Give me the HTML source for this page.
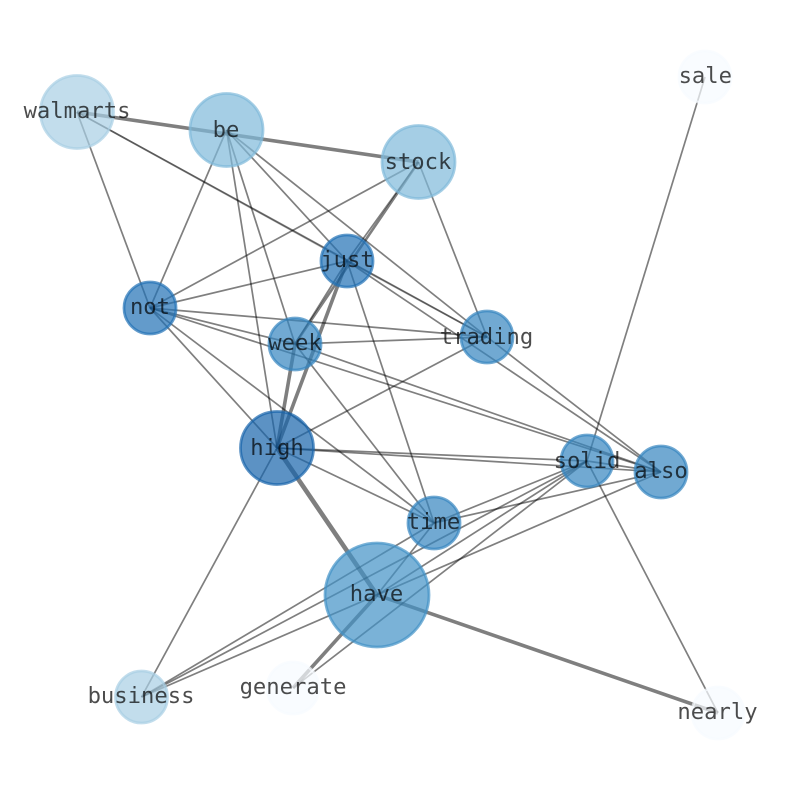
<!DOCTYPE html>
<html><head><meta charset="utf-8"><style>
html,body{margin:0;padding:0;background:#fff}
svg{display:block}
text{font-family:"DejaVu Sans Mono","Liberation Mono",monospace;font-size:22.2px;text-anchor:middle;fill:#000;fill-opacity:.7}
line{stroke:#000;stroke-opacity:.5;stroke-width:1.7}
.t2{stroke-width:2.6}.t3{stroke-width:3.6}.t4{stroke-width:4.6}
.o{stroke-opacity:.3}
circle{stroke-width:2.8;fill-opacity:.7;stroke-opacity:.7}
</style></head><body>
<svg width="794" height="790" viewBox="0 0 794 790" xmlns="http://www.w3.org/2000/svg">
<g>
<line class="t3" x1="77" y1="112" x2="418.5" y2="162"/>
<line class="o" x1="77" y1="112" x2="347" y2="261"/>
<line x1="77" y1="112" x2="487" y2="337"/>
<line class="o" x1="347" y1="261" x2="487" y2="337"/>
<line x1="77" y1="112" x2="150" y2="308"/>
<line x1="226.5" y1="130" x2="150" y2="308"/>
<line x1="226.5" y1="130" x2="277" y2="448"/>
<line x1="226.5" y1="130" x2="295" y2="344"/>
<line x1="226.5" y1="130" x2="347" y2="261"/>
<line x1="226.5" y1="130" x2="487" y2="337"/>
<line x1="418.5" y1="162" x2="150" y2="308"/>
<line x1="418.5" y1="162" x2="347" y2="261"/>
<line class="t2" x1="418.5" y1="162" x2="295" y2="344"/>
<line x1="418.5" y1="162" x2="487" y2="337"/>
<line x1="347" y1="261" x2="150" y2="308"/>
<line x1="347" y1="261" x2="295" y2="344"/>
<line class="t3" x1="347" y1="261" x2="277" y2="448"/>
<line x1="347" y1="261" x2="434" y2="523"/>
<line x1="347" y1="261" x2="661" y2="472"/>
<line x1="150" y1="308" x2="487" y2="337"/>
<line x1="150" y1="308" x2="295" y2="344"/>
<line x1="150" y1="308" x2="661" y2="472"/>
<line x1="150" y1="308" x2="277" y2="448"/>
<line x1="150" y1="308" x2="434" y2="523"/>
<line x1="295" y1="344" x2="487" y2="337"/>
<line x1="295" y1="344" x2="434" y2="523"/>
<line x1="295" y1="344" x2="661" y2="472"/>
<line class="t3" x1="295" y1="344" x2="277" y2="448"/>
<line x1="487" y1="337" x2="277" y2="448"/>
<line x1="487" y1="337" x2="661" y2="472"/>
<line x1="277" y1="448" x2="587" y2="461"/>
<line x1="277" y1="448" x2="661" y2="472"/>
<line x1="277" y1="448" x2="434" y2="523"/>
<line x1="277" y1="448" x2="141.5" y2="697"/>
<line class="t4" x1="277" y1="448" x2="377" y2="595"/>
<line x1="434" y1="523" x2="587" y2="461"/>
<line x1="434" y1="523" x2="661" y2="472"/>
<line x1="434" y1="523" x2="377" y2="595"/>
<line x1="434" y1="523" x2="141.5" y2="697"/>
<line x1="587" y1="461" x2="141.5" y2="697"/>
<line x1="587" y1="461" x2="377" y2="595"/>
<line x1="587" y1="461" x2="293" y2="688"/>
<line x1="587" y1="461" x2="705" y2="77"/>
<line x1="587" y1="461" x2="718" y2="713"/>
<line x1="587" y1="461" x2="661" y2="472"/>
<line x1="661" y1="472" x2="141.5" y2="697"/>
<line class="t3" x1="377" y1="595" x2="293" y2="688"/>
<line class="t3" x1="377" y1="595" x2="718" y2="713"/>
</g>
<g>
<circle cx="77" cy="112" r="36.5" fill="#a8cfe4" stroke="#a8cfe4"/>
<circle cx="226.5" cy="130" r="36.5" fill="#7fb9da" stroke="#7fb9da"/>
<circle cx="418.5" cy="162" r="36.5" fill="#7fb9da" stroke="#7fb9da"/>
<circle cx="705" cy="77" r="26" fill="#f7fbff" stroke="#f7fbff"/>
<circle cx="347" cy="261" r="26" fill="#2171b5" stroke="#2171b5"/>
<circle cx="150" cy="308" r="26" fill="#2171b5" stroke="#2171b5"/>
<circle cx="295" cy="344" r="26" fill="#3484bf" stroke="#3484bf"/>
<circle cx="487" cy="337" r="26" fill="#3484bf" stroke="#3484bf"/>
<circle cx="277" cy="448" r="36.5" fill="#1764ab" stroke="#1764ab"/>
<circle cx="587" cy="461" r="26" fill="#3484bf" stroke="#3484bf"/>
<circle cx="661" cy="472" r="26" fill="#3484bf" stroke="#3484bf"/>
<circle cx="434" cy="523" r="26" fill="#3484bf" stroke="#3484bf"/>
<circle cx="377" cy="595" r="52" fill="#4292c6" stroke="#4292c6"/>
<circle cx="141.5" cy="697" r="26" fill="#a8cfe4" stroke="#a8cfe4"/>
<circle cx="293" cy="688" r="26" fill="#f7fbff" stroke="#f7fbff"/>
<circle cx="718" cy="713" r="26" fill="#f7fbff" stroke="#f7fbff"/>
</g>
<g>
<text x="77" y="118">walmarts</text>
<text x="226" y="137">be</text>
<text x="418" y="169">stock</text>
<text x="705.3" y="83">sale</text>
<text x="347" y="267">just</text>
<text x="150" y="314">not</text>
<text x="295" y="350">week</text>
<text x="486.5" y="344">trading</text>
<text x="277" y="455">high</text>
<text x="587" y="468">solid</text>
<text x="661" y="478">also</text>
<text x="433.5" y="529">time</text>
<text x="376.5" y="601">have</text>
<text x="141" y="703">business</text>
<text x="293" y="694">generate</text>
<text x="717.5" y="719">nearly</text>
</g>
</svg>
</body></html>
